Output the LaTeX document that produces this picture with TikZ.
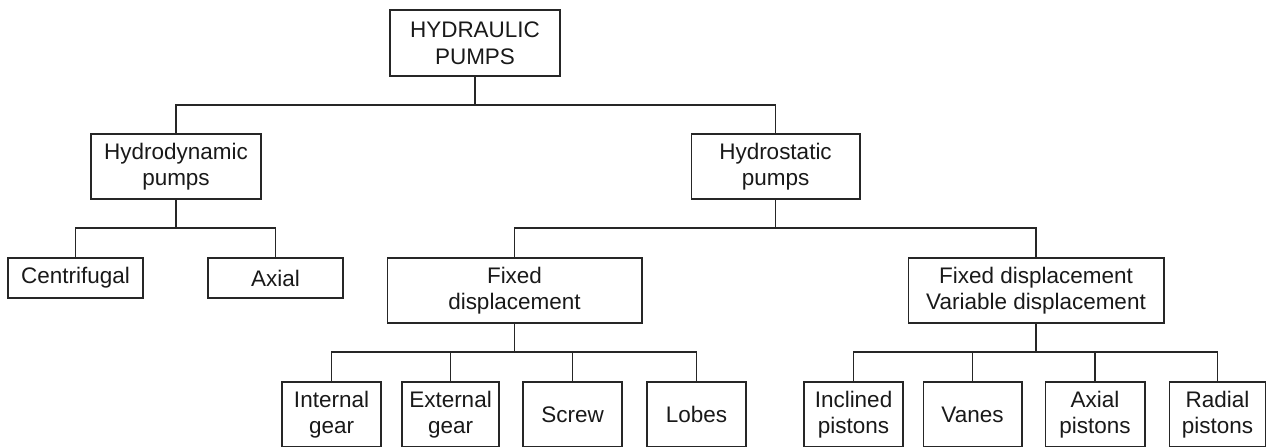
\documentclass[tikz,border=0pt]{standalone}
\usepackage{fontspec}
\setmainfont{Liberation Sans}
\begin{document}
\begin{tikzpicture}[x={(0.02cm,0)},y={(0,-0.02cm)},
  line width=0.6pt, draw=black!85,
  box/.style={draw=black!85, line width=0.6pt, rectangle, inner sep=0pt, align=center,
    font=\fontsize{12.8}{15.1}\selectfont, text=black!90},
  wire/.style={draw=black!85, line width=0.6pt}]
\useasboundingbox (0,0) rectangle (1266,446);
\clip (0,0) rectangle (1266,446);
% level 0
\node[box, minimum width=3.4cm, minimum height=1.32cm] (top) at (475,43) {HYDRAULIC\\PUMPS};
% level 1
\node[box, minimum width=3.4cm, minimum height=1.3cm] (hyd) at (176,166.5) {Hydrodynamic\\pumps};
\node[box, minimum width=3.38cm, minimum height=1.3cm] (hst) at (775.5,166.5) {Hydrostatic\\pumps};
% level 2
\node[box, minimum width=2.7cm, minimum height=0.8cm] (cen) at (75.5,278) {Centrifugal};
\node[box, minimum width=2.7cm, minimum height=0.8cm] (axi) at (275.5,278) {Axial};
\node[box, minimum width=5.1cm, minimum height=1.3cm] (fix) at (514.5,290.5) {Fixed\\displacement};
\node[box, minimum width=5.12cm, minimum height=1.3cm] (var) at (1036,290.5) {Fixed displacement\\Variable displacement};
% level 3
\node[box, minimum width=1.98cm, minimum height=1.3cm] (int) at (331.5,414.5) {Internal\\gear};
\node[box, minimum width=1.94cm, minimum height=1.3cm] (ext) at (450.5,414.5) {External\\gear};
\node[box, minimum width=1.98cm, minimum height=1.3cm] (scr) at (572.5,414.5) {Screw};
\node[box, minimum width=1.98cm, minimum height=1.3cm] (lob) at (696.5,414.5) {Lobes};
\node[box, minimum width=1.98cm, minimum height=1.3cm] (inc) at (853.5,414.5) {Inclined\\pistons};
\node[box, minimum width=1.98cm, minimum height=1.3cm] (van) at (972.5,414.5) {Vanes};
\node[box, minimum width=2.0cm, minimum height=1.3cm] (axp) at (1095,414.5) {Axial\\pistons};
\node[box, minimum width=1.94cm, minimum height=1.3cm] (rad) at (1217.5,414.5) {Radial\\pistons};
% junctions
\coordinate (j0) at (475,105);
\coordinate (j1) at (176,228);
\coordinate (j2) at (775.5,228);
\coordinate (j3) at (514.5,352);
\coordinate (j4) at (1036,352);
% connectors
\draw[wire] (top.south) -- (j0);
\draw[wire] (j0) -| (hyd.north);
\draw[wire] (j0) -| (hst.north);
\draw[wire] (hyd.south) -- (j1);
\draw[wire] (j1) -| (cen.north);
\draw[wire] (j1) -| (axi.north);
\draw[wire] (hst.south) -- (j2);
\draw[wire] (j2) -| (fix.north);
\draw[wire] (j2) -| (var.north);
\draw[wire] (fix.south) -- (j3);
\draw[wire] (j3) -| (int.north);
\draw[wire] (j3) -| (ext.north);
\draw[wire] (j3) -| (scr.north);
\draw[wire] (j3) -| (lob.north);
\draw[wire] (var.south) -- (j4);
\draw[wire] (j4) -| (inc.north);
\draw[wire] (j4) -| (van.north);
\draw[wire] (j4) -| (axp.north);
\draw[wire] (j4) -| (rad.north);
\end{tikzpicture}
\end{document}
